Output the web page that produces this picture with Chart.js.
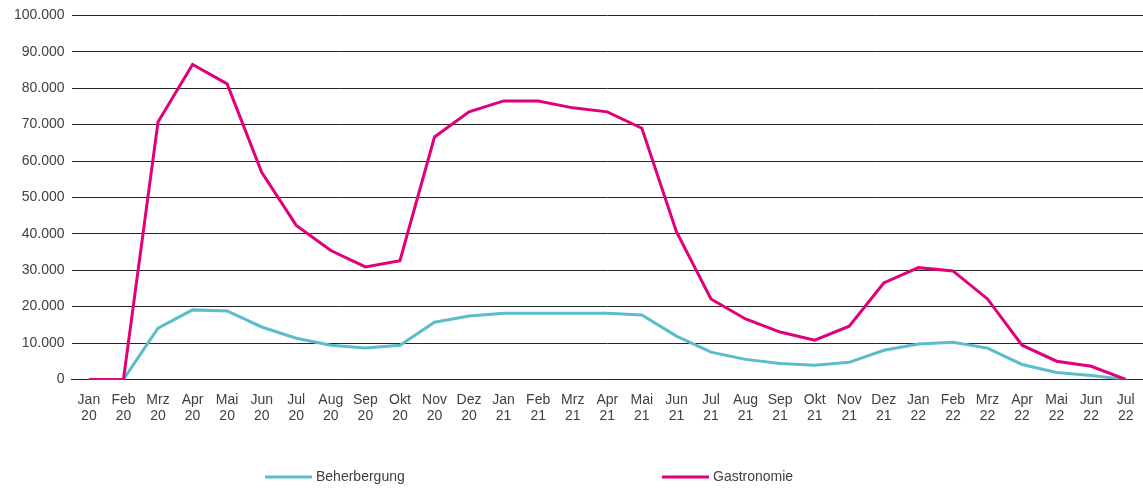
<!DOCTYPE html>
<html>
<head>
<meta charset="utf-8">
<script src="https://cdn.jsdelivr.net/npm/chart.js@4"></script>
<style>
    html, body { margin: 0; padding: 0; background: #fff; }
    #wrap { width: 1143px; height: 488px; }
</style>
</head>
<body>
<div id="wrap"><canvas id="chart"></canvas></div>
<script>
const months = ["Jan", "Feb", "Mrz", "Apr", "Mai", "Jun", "Jul", "Aug", "Sep", "Okt", "Nov", "Dez",
    "Jan", "Feb", "Mrz", "Apr", "Mai", "Jun", "Jul", "Aug", "Sep", "Okt", "Nov", "Dez",
    "Jan", "Feb", "Mrz", "Apr", "Mai", "Jun", "Jul"];
const years = ["20", "20", "20", "20", "20", "20", "20", "20", "20", "20", "20", "20",
    "21", "21", "21", "21", "21", "21", "21", "21", "21", "21", "21", "21",
    "22", "22", "22", "22", "22", "22", "22"];

const beherbergung = [0, 0, 14100, 19100, 18800, 14400, 11300, 9400, 8600, 9400, 15700, 17400,
    18200, 18200, 18200, 18200, 17700, 11900, 7500, 5500, 4400, 3900, 4700, 8000,
    9700, 10200, 8600, 4100, 1900, 1100, 0];
const gastronomie = [0, 0, 70700, 86500, 81200, 56900, 42300, 35400, 30900, 32600, 66600, 73500,
    76500, 76500, 74600, 73500, 69000, 40600, 22100, 16600, 13000, 10800, 14600, 26500,
    30700, 29800, 22100, 9400, 5000, 3600, 0];

const fontFamily = '"Liberation Sans", Arial, sans-serif';
const textColor = "#404040";

function formatDe(v) {
    return String(v).replace(/\B(?=(\d{3})+(?!\d))/g, ".");
}

// legend drawn below the axis, items spaced like the original
const bottomLegend = {
    id: "bottomLegend",
    afterDraw(chart) {
        const ctx = chart.ctx;
        const positions = [265, 662];
        ctx.save();
        ctx.font = "14px " + fontFamily;
        ctx.textBaseline = "middle";
        ctx.fillStyle = textColor;
        chart.data.datasets.forEach((ds, i) => {
            const x = positions[i];
            const y = 477;
            ctx.strokeStyle = ds.borderColor;
            ctx.lineWidth = 3;
            ctx.beginPath();
            ctx.moveTo(x, y);
            ctx.lineTo(x + 47, y);
            ctx.stroke();
            ctx.fillText(ds.label, x + 51, y);
        });
        ctx.restore();
    }
};

new Chart(document.getElementById("chart"), {
    type: "line",
    data: {
        labels: months.map((m, i) => [m, years[i]]),
        datasets: [{
            label: "Beherbergung",
            data: beherbergung,
            borderColor: "#5bbccb",
            borderWidth: 3,
            pointRadius: 0,
            tension: 0,
            fill: false,
            order: 1
        }, {
            label: "Gastronomie",
            data: gastronomie,
            borderColor: "#e0007a",
            borderWidth: 3,
            pointRadius: 0,
            tension: 0,
            fill: false,
            order: 0
        }]
    },
    options: {
        responsive: true,
        maintainAspectRatio: false,
        animation: false,
        layout: {
            padding: { top: 10, right: 0, left: 7, bottom: 59 }
        },
        plugins: {
            legend: { display: false },
            tooltip: { enabled: false }
        },
        scales: {
            x: {
                offset: true,
                grid: { display: false },
                border: { display: true, color: "#262626", width: 1 },
                ticks: {
                    color: textColor,
                    font: { family: fontFamily, size: 14 },
                    maxRotation: 0,
                    autoSkip: false,
                    padding: 4
                }
            },
            y: {
                min: 0,
                max: 100000,
                grid: { color: "#262626", lineWidth: 1, drawTicks: false },
                border: { display: false },
                ticks: {
                    stepSize: 10000,
                    color: textColor,
                    font: { family: fontFamily, size: 14 },
                    padding: 7,
                    callback: v => formatDe(v)
                }
            }
        }
    },
    plugins: [bottomLegend]
});
</script>
</body>
</html>
